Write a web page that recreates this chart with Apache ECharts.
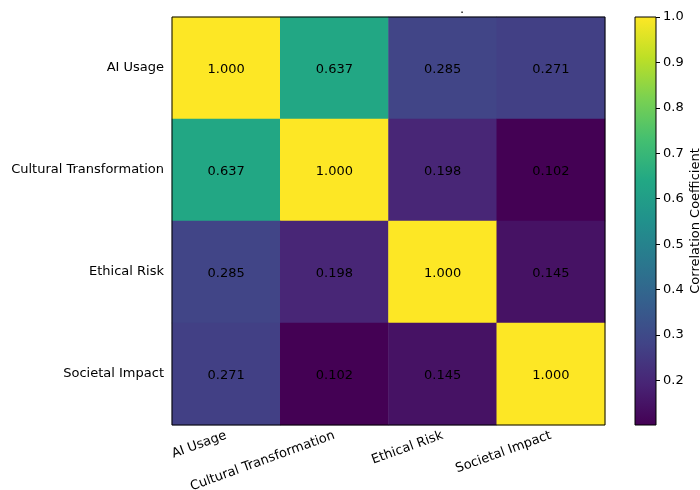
<!DOCTYPE html>
<html>
<head>
<meta charset="utf-8">
<script src="https://cdn.jsdelivr.net/npm/echarts@6/dist/echarts.min.js"></script>
<style>
    html, body { margin: 0; padding: 0; background: #fff; }
    #chart { width: 700px; height: 490px; }
</style>
</head>
<body>
<div id="chart"></div>
<script>
// 变量名称
const labels = ['AI Usage', 'Cultural Transformation', 'Ethical Risk', 'Societal Impact'];

// 相关系数矩阵
const corrAI = [1.000, 0.637, 0.285, 0.271];
const corrCulture = [0.637, 1.000, 0.198, 0.102];
const corrEthic = [0.285, 0.198, 1.000, 0.145];
const corrSociety = [0.271, 0.102, 0.145, 1.000];
const corrRows = [corrAI, corrCulture, corrEthic, corrSociety];

// 色条范围和刻度
const cbMin = 0.102;
const cbMax = 1.0;
const cbTicks = [0.2, 0.3, 0.4, 0.5, 0.6, 0.7, 0.8, 0.9, 1.0];

// viridis 色带
const viridis = ['#440154', '#482475', '#414487', '#355f8d', '#2a788e', '#21918c',
    '#22a884', '#44bf70', '#7ad151', '#bddf26', '#fde725'];

const FONT = 'DejaVu Sans';
const FS = 13;

let cells = [];
corrRows.forEach((row, y) => {
    row.forEach((v, x) => {
        cells.push([x, y, v]);
    });
});

// 色条渐变（上为最大值）
let gradStops = viridis.map((c, i) => ({
    offset: 1 - i / (viridis.length - 1),
    color: c
}));

let chart = echarts.init(document.getElementById('chart'));

let option = {
    animation: false,
    textStyle: { fontFamily: FONT },
    title: {
        text: '.',
        left: 455,
        top: -2,
        textStyle: { fontFamily: FONT, fontSize: FS, fontWeight: 'normal', color: '#000' }
    },
    visualMap: {
        show: false,
        type: 'continuous',
        seriesIndex: 0,
        min: cbMin,
        max: cbMax,
        inRange: { color: viridis }
    },
    grid: [
        {
            left: 172, top: 17, width: 433, height: 408,
            outerBoundsMode: 'none', containLabel: false,
            show: true, z: 5, backgroundColor: 'transparent',
            borderColor: '#000', borderWidth: 1
        },
        {
            left: 635, top: 17, width: 21, height: 408,
            outerBoundsMode: 'none', containLabel: false,
            show: true, z: 5, backgroundColor: 'transparent',
            borderColor: '#000', borderWidth: 1
        }
    ],
    xAxis: [
        {
            type: 'category',
            gridIndex: 0,
            data: labels,
            axisLine: { show: false },
            axisTick: { alignWithLabel: true, length: 4, lineStyle: { color: '#000' } },
            axisLabel: {
                rotate: 20, margin: 10, color: '#000',
                fontFamily: FONT, fontSize: FS, interval: 0
            },
            splitLine: { show: false }
        },
        {
            type: 'category',
            gridIndex: 1,
            data: ['cb'],
            show: false
        }
    ],
    yAxis: [
        {
            type: 'category',
            gridIndex: 0,
            data: labels,
            inverse: true,
            axisLine: { show: false },
            axisTick: { alignWithLabel: true, length: 4, lineStyle: { color: '#000' } },
            axisLabel: {
                margin: 8, color: '#000', fontFamily: FONT, fontSize: FS, interval: 0,
                padding: [3, 0, 0, 0]
            },
            splitLine: { show: false }
        },
        {
            type: 'value',
            gridIndex: 1,
            position: 'right',
            min: cbMin,
            max: cbMax,
            name: 'Correlation Coefficient',
            nameLocation: 'middle',
            nameRotate: 90,
            nameGap: 33,
            nameTextStyle: { fontFamily: FONT, fontSize: FS, color: '#000' },
            axisLine: { show: false },
            axisTick: {
                show: true, length: 4, lineStyle: { color: '#000' },
                customValues: cbTicks
            },
            axisLabel: {
                margin: 7, color: '#000', fontFamily: FONT, fontSize: FS,
                customValues: cbTicks,
                formatter: v => v.toFixed(1)
            },
            splitLine: { show: false }
        }
    ],
    series: [
        {
            type: 'heatmap',
            xAxisIndex: 0,
            yAxisIndex: 0,
            data: cells,
            label: {
                show: true,
                color: '#000',
                fontFamily: FONT,
                fontSize: FS,
                offset: [0, 1.5],
                formatter: p => p.value[2].toFixed(3)
            },
            emphasis: { disabled: true }
        },
        {
            type: 'bar',
            xAxisIndex: 1,
            yAxisIndex: 1,
            stack: 'cb',
            barWidth: '100%',
            silent: true,
            data: [cbMin],
            itemStyle: { color: 'transparent' }
        },
        {
            type: 'bar',
            xAxisIndex: 1,
            yAxisIndex: 1,
            stack: 'cb',
            barWidth: '100%',
            silent: true,
            data: [cbMax - cbMin],
            itemStyle: {
                color: new echarts.graphic.LinearGradient(0, 0, 0, 1, gradStops)
            }
        }
    ]
};

chart.setOption(option);
</script>
</body>
</html>
